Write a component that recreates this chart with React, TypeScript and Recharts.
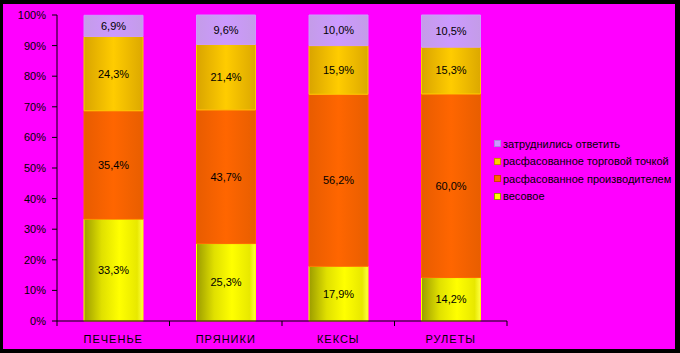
import { BarChart, Bar, XAxis, YAxis, LabelList } from 'recharts'

const CATEGORIES = ['ПЕЧЕНЬЕ', 'ПРЯНИКИ', 'КЕКСЫ', 'РУЛЕТЫ']
const VESOVOE = [33.3, 25.3, 17.9, 14.2]
const PROIZVODITEL = [35.4, 43.7, 56.2, 60.0]
const TORGOVAYA = [24.3, 21.4, 15.9, 15.3]
const ZATRUDNILIS = [6.9, 9.6, 10.0, 10.5]
const Y_TICKS = [0, 10, 20, 30, 40, 50, 60, 70, 80, 90, 100]

const SERIES = [
  { key: 'vesovoe', name: 'весовое', fill: 'url(#gYellow)', swatch: '#ffff00', edge: '#999900' },
  { key: 'proizv', name: 'расфасованное производителем', fill: 'url(#gOrange)', swatch: '#ff6600', edge: '#cc4400' },
  { key: 'torg', name: 'расфасованное торговой точкой', fill: 'url(#gGold)', swatch: '#ffcc00', edge: '#cc8800' },
  { key: 'zatr', name: 'затруднились ответить', fill: 'url(#gPurple)', swatch: '#cc99ff', edge: '#aa88dd' },
]

const data = CATEGORIES.map((name, i) => ({
  name,
  vesovoe: VESOVOE[i],
  proizv: PROIZVODITEL[i],
  torg: TORGOVAYA[i],
  zatr: ZATRUDNILIS[i],
}))

const FONT = '"Liberation Sans", Arial, sans-serif'
const BAND = 112.5

const fmt = (v: any) => Number(v).toFixed(1).replace('.', ',') + '%'

function CategoryTick({ x, y, payload, index }: any) {
  const left = x - BAND / 2
  return (
    <g>
      <line x1={left} y1={y - 8} x2={left} y2={y - 3} stroke="#000" />
      {index === CATEGORIES.length - 1 && (
        <line x1={x + BAND / 2} y1={y - 8} x2={x + BAND / 2} y2={y - 3} stroke="#000" />
      )}
      <text x={x} y={y + 14} textAnchor="middle" fontSize={11} fill="#000" fontFamily={FONT} letterSpacing={1}>
        {payload.value}
      </text>
    </g>
  )
}

function LegendBox() {
  return (
    <div style={{ position: 'absolute', left: 491, top: 131, fontFamily: FONT, fontSize: 11, color: '#000' }}>
      {[...SERIES].reverse().map((s) => (
        <div key={s.key} style={{ display: 'flex', alignItems: 'center', height: 17.5, whiteSpace: 'nowrap' }}>
          <span
            style={{
              display: 'inline-block', width: 5, height: 5, background: s.swatch,
              border: `1px solid ${s.edge}`, marginRight: 2,
            }}
          />
          <span>{s.name}</span>
        </div>
      ))}
    </div>
  )
}

export default function App() {
  return (
    <div style={{ position: 'absolute', left: 0, top: 0, width: 680, height: 353, background: '#000' }}>
      <div style={{ position: 'absolute', left: 3, top: 4, width: 672, height: 345, background: '#ff00ff' }}>
        <BarChart
          width={672}
          height={345}
          data={data}
          margin={{ top: 11, right: 168, bottom: 0, left: 0 }}
          barCategoryGap="24%"
        >
          <defs>
            <linearGradient id="gYellow" x1="0" y1="0" x2="1" y2="0">
              <stop offset="0" stopColor="#9c9c00" />
              <stop offset="0.3" stopColor="#e0e000" />
              <stop offset="0.6" stopColor="#ffff00" />
              <stop offset="0.9" stopColor="#e8e800" />
              <stop offset="1" stopColor="#ffff40" />
            </linearGradient>
            <linearGradient id="gGold" x1="0" y1="0" x2="1" y2="0">
              <stop offset="0" stopColor="#d9a400" />
              <stop offset="0.5" stopColor="#ffcc00" />
              <stop offset="1" stopColor="#dca800" />
            </linearGradient>
            <linearGradient id="gOrange" x1="0" y1="0" x2="1" y2="0">
              <stop offset="0" stopColor="#e85c00" />
              <stop offset="0.5" stopColor="#ff6600" />
              <stop offset="1" stopColor="#e85e00" />
            </linearGradient>
            <linearGradient id="gPurple" x1="0" y1="0" x2="1" y2="0">
              <stop offset="0" stopColor="#c49ce8" />
              <stop offset="0.5" stopColor="#cc99ff" />
              <stop offset="1" stopColor="#c49ce8" />
            </linearGradient>
          </defs>
          <XAxis
            dataKey="name"
            height={28}
            axisLine={{ stroke: '#000' }}
            tickLine={false}
            tickSize={0}
            tickMargin={8}
            tick={<CategoryTick />}
            interval={0}
          />
          <YAxis
            width={54}
            domain={[0, 100]}
            ticks={Y_TICKS}
            interval={0}
            tickFormatter={(v) => v + '%'}
            axisLine={{ stroke: '#000' }}
            tickLine={{ stroke: '#000' }}
            tickSize={5}
            tickMargin={6}
            tick={{ fill: '#000', fontSize: 11, fontFamily: FONT }}
          />
          {SERIES.map((s) => (
            <Bar
              key={s.key}
              dataKey={s.key}
              name={s.name}
              stackId="a"
              fill={s.fill}
              stroke={s.swatch}
              strokeWidth={1}
              isAnimationActive={false}
            >
              <LabelList dataKey={s.key} position="center" formatter={fmt} fill="#000" fontSize={11} fontFamily={FONT} />
            </Bar>
          ))}
        </BarChart>
        <LegendBox />
      </div>
    </div>
  )
}
